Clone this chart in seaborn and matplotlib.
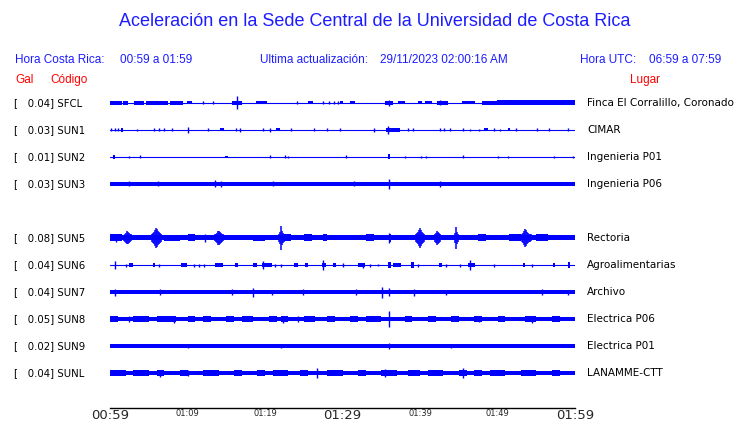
import matplotlib
matplotlib.use("Agg")
import matplotlib.pyplot as plt
import matplotlib.transforms as mtransforms
import pandas as pd
import seaborn as sns

# ---------------------------------------------------------------
# data (time in minutes after 00:59,
# amplitudes as half-heights in screen pixels)
# ---------------------------------------------------------------
stations = ["SFCL", "SUN1", "SUN2", "SUN3", "SUN5", "SUN6", "SUN7", "SUN8", "SUN9", "SUNL"]
slots = [0, 1, 2, 3, 5, 6, 7, 8, 9, 10]
peaks = ["0.04", "0.03", "0.01", "0.03", "0.08", "0.04", "0.04", "0.05", "0.02", "0.04"]
places = ["Finca El Corralillo, Coronado", "CIMAR", "Ingenieria P01", "Ingenieria P06",
          "Rectoria", "Agroalimentarias", "Archivo", "Electrica P06", "Electrica P01",
          "LANAMME-CTT"]

base_half = [0.5, 0.5, 0.5, 2.0, 2.5, 0.5, 2.3, 2.3, 1.8, 2.3]

blocks = {
    "SFCL": [(0, 1.5, 2), (1.7, 2.3, 2), (3.1, 4.4, 2), (4.6, 7.5, 2), (7.7, 9.4, 2),
             (9.9, 10.6, 1.5), (15.7, 17.0, 1.8), (18.9, 20.2, 1.5), (25.5, 26.2, 1.5),
             (29.7, 30.1, 1.5), (31, 31.6, 1.5), (35.5, 36.5, 2), (37.2, 38.1, 1.5),
             (39.7, 40.2, 1.5), (40.6, 41.5, 1.5), (42.2, 43.6, 2), (45.4, 47.1, 1.5),
             (48, 49.9, 2), (49.9, 60, 2.5)],
    "SUN1": [(1.4, 1.7, 2), (14.2, 14.7, 1.5), (21.4, 21.9, 1.5), (35.6, 37.4, 2),
             (48.3, 48.8, 1.5), (51.3, 51.6, 1.5)],
    "SUN2": [(0.4, 0.6, 2), (14.8, 15.2, 1.2), (35.9, 36.1, 2.5)],
    "SUN3": [],
    "SUN5": [(0, 1.6, 3.5), (7, 9, 3), (10, 11, 3.5), (18.5, 20, 3), (22.5, 23.4, 3.5),
             (25, 26, 3.5), (27.5, 28, 3.5), (33, 34, 3.5), (36, 36.3, 4), (47.5, 48.5, 3.5),
             (51.5, 53, 3.5), (55, 56.5, 3.5)],
    "SUN6": [(2.5, 3.0, 2), (5.6, 5.8, 2), (9.2, 9.9, 2), (13.5, 14.6, 2), (16.1, 16.5, 2),
             (18.5, 19.0, 2), (19.6, 20.9, 2.5), (23.7, 24.3, 2), (25.2, 25.5, 2),
             (27.3, 27.9, 2), (28.8, 29.1, 2), (32, 32.9, 2), (35.9, 36.3, 3),
             (36.5, 37.6, 2), (38.9, 39.2, 3), (42.4, 42.8, 2), (46.2, 47.1, 2.5),
             (53.3, 53.5, 2), (57.2, 57.4, 2), (59.1, 59.4, 3)],
    "SUN7": [],
    "SUN8": [(0, 1, 3), (3, 5, 3), (6, 8.5, 3), (10, 11, 3), (12, 13, 3), (15, 16, 3),
             (17, 18.5, 3), (20.5, 21.5, 3), (22, 23, 3), (25, 26.5, 3), (28, 29, 3),
             (31, 32, 3), (33, 35, 3), (38, 39, 3), (41, 42, 3), (44, 45, 3), (47, 48, 3),
             (50, 51, 3), (53.5, 55, 3), (57, 58, 3)],
    "SUN9": [],
    "SUNL": [(0, 2, 3), (3, 5, 3), (6, 7, 3), (9, 10, 3), (12, 14, 3), (16, 17, 3),
             (19, 20, 3), (21, 23, 3), (24.5, 25.5, 3), (28, 30, 3), (32, 33, 3),
             (35, 37, 3), (38.5, 40, 3), (41, 43, 3), (45, 46, 3), (47, 48, 3),
             (49, 51, 3), (53, 55, 3), (57, 58, 3)],
}

spikes = {
    "SFCL": [(16.4, 6.5), (36.0, 3), (42.6, 2.5), (12.0, 1.5), (13.3, 1.5), (24.1, 1.5),
             (27.5, 1.5), (28.2, 1.5), (28.9, 1.5), (29.4, 1.5)],
    "SUN1": [(0.1, 1.5), (0.6, 1.5), (1.0, 1.5), (3.5, 1), (5.7, 1.5), (6.3, 1.5),
             (7.0, 1.5), (8.0, 1.5), (10.0, 3), (12.6, 1.5), (16.2, 1.5), (16.8, 2),
             (19.8, 1.5), (20.7, 2), (23.4, 1.5), (26.3, 1.5), (28.0, 1.5), (29.7, 1.5),
             (34.0, 2), (35.9, 4.3), (38.5, 1.5), (39.1, 1.5), (42.6, 1.5), (43.1, 1.5),
             (43.9, 1.5), (45.6, 1.5), (46.4, 1), (47.6, 1), (49.6, 1.5), (50.3, 1),
             (52.4, 1.5), (55.1, 1.5), (56.6, 1.5), (59.1, 1.5)],
    "SUN2": [(2.5, 1), (3.9, 1.5), (20.6, 1.5), (22.6, 1.5), (23.0, 1), (30.5, 1.5),
             (38.1, 1.2), (40.1, 1.2), (40.8, 1.2), (45.5, 1.5), (50.0, 1), (51.3, 1),
             (57.3, 1), (59.7, 1.2)],
    "SUN3": [(2.5, 2.5), (6.2, 2.5), (13.5, 3.5), (14.3, 3), (36.0, 5), (42.6, 3),
             (21, 2.5), (31.5, 2.5)],
    "SUN5": [(36.0, 4.5), (0.8, 4), (12.2, 4)],
    "SUN6": [(0.6, 4), (2.0, 1.5), (6.3, 1.5), (10.9, 1.5), (11.5, 1.5), (12.1, 1.5),
             (19.7, 4), (21.3, 1.5), (22.1, 1.5), (27.5, 5), (30.1, 2), (32.7, 2.5),
             (33.5, 1.5), (34.6, 1), (39.8, 1.5), (43.4, 1.5), (45.2, 1.5), (46.4, 5),
             (49.5, 1.5), (54.4, 1.5)],
    "SUN7": [(0.6, 3.5), (6.5, 3), (15.7, 3), (18.4, 4.5), (20.9, 2.5), (24.9, 3),
             (31.7, 3), (35.1, 5.5), (36.0, 4), (39.2, 3.5), (43.3, 2.5), (55.7, 3),
             (59.1, 2.5)],
    "SUN8": [(8.2, 3.5), (22.3, 3.5), (24.2, 3), (36.0, 8), (54.4, 3.5), (47.6, 3),
             (2.4, 3)],
    "SUN9": [(36.0, 3), (10, 2), (22, 2), (44, 2)],
    "SUNL": [(26.7, 5), (10.1, 3), (35.5, 4), (45.6, 5), (6.5, 3.5)],
}

# wave trains: centre time and half-height profile, one value per screen pixel
bursts = {
    "SUN5": [
        (2.3, [3, 4, 5, 6.5, 6, 5, 4, 3.5]),
        (6.0, [4, 5, 6, 8, 10, 9, 7, 6, 5, 4]),
        (14.1, [3.5, 4, 5, 7, 7.5, 6, 5, 4, 3.5]),
        (22.2, [4, 6, 12, 7, 5, 4, 3.5]),
        (40.0, [4, 5, 6, 8, 10, 8, 6, 5, 4]),
        (42.2, [4, 5, 7.5, 6, 5, 4]),
        (44.7, [5, 11, 6, 4]),
        (53.8, [4, 5, 7, 9, 8, 6, 5, 4, 4, 3.5]),
    ],
}

tick_minutes = list(range(0, 61, 5))
tick_labels = ["00:59", "", "01:09", "", "01:19", "", "01:29", "", "01:39", "", "01:49", "", "01:59"]
big_labels = ["00:59", "01:29", "01:59"]

# ---------------------------------------------------------------
# figure
# ---------------------------------------------------------------
sns.set_style("white")
plt.rcParams["font.family"] = ["DejaVu Sans"]

W, H = 740, 423
PX = 1 / 27.0          # one screen pixel in slot units
STEP = 60 / 465.0      # one screen pixel in minutes
BLUE = "#0000ff"
TXT_BLUE = "#1c1cff"

fig = plt.figure(figsize=(W / 100, H / 100), dpi=100)
ax = fig.add_axes([110 / W, 1 - 408 / H, 465 / W, 318 / H])

# thin centre line for every trace
lines = pd.DataFrame({
    "t": [0, 60] * len(stations),
    "y": [s for s in slots for _ in range(2)],
    "station": [st for st in stations for _ in range(2)],
})
sns.lineplot(data=lines, x="t", y="y", units="station", estimator=None,
             color=BLUE, lw=0.8, ax=ax, legend=False)

for st, y0, bh in zip(stations, slots, base_half):
    if bh > 0.6:
        ax.fill_between([0, 60], y0 - bh * PX, y0 + bh * PX, color=BLUE, lw=0)
    for t0, t1, h in blocks[st]:
        ax.fill_between([t0, t1], y0 - h * PX, y0 + h * PX, color=BLUE, lw=0)
    for t, h in spikes[st]:
        ax.vlines(t, y0 - h * PX, y0 + h * PX, color=BLUE, lw=1.0)
    for tc, prof in bursts.get(st, []):
        t_start = tc - (len(prof) - 1) / 2 * STEP
        ts = [t_start + i * STEP for i in range(len(prof))]
        ax.vlines(ts, [y0 - h * PX for h in prof], [y0 + h * PX for h in prof],
                  color=BLUE, lw=1.1)

ax.set_xlim(0, 60)
ax.set_ylim(10 + 35 / 27, -13 / 27)
ax.set_xlabel("")
ax.set_ylabel("")
ax.set_yticks([])
for side in ["top", "left", "right"]:
    ax.spines[side].set_visible(False)
ax.spines["bottom"].set_color("black")
ax.spines["bottom"].set_linewidth(1)
ax.set_facecolor("white")

ax.set_xticks(tick_minutes)
ax.set_xticklabels(tick_labels)
ax.tick_params(axis="x", direction="in", length=10, width=1, color="black", pad=1)
for lab in ax.get_xticklabels():
    lab.set_fontsize(9.5 if lab.get_text() in big_labels else 6)

# station labels, left and right
trans = mtransforms.blended_transform_factory(fig.transFigure, ax.transData)
for st, y0, pk, pl in zip(stations, slots, peaks, places):
    ax.text(14 / W, y0, f"[   {pk}] {st}", transform=trans, fontsize=7.3,
            ha="left", va="center", color="black")
    ax.text(587 / W, y0, pl, transform=trans, fontsize=7.5,
            ha="left", va="center", color="black")

# header texts
hdr = dict(family=["Liberation Sans", "DejaVu Sans"], va="center", ha="left")
fig.text(375 / W, 1 - 21 / H, "Aceleración en la Sede Central de la Universidad de Costa Rica",
         fontsize=13, color=TXT_BLUE, family=["Liberation Sans", "DejaVu Sans"],
         ha="center", va="center")
fig.text(15 / W, 1 - 60 / H, "Hora Costa Rica:", fontsize=8.5, color=TXT_BLUE, **hdr)
fig.text(120 / W, 1 - 60 / H, "00:59 a 01:59", fontsize=8.5, color=TXT_BLUE, **hdr)
fig.text(260 / W, 1 - 60 / H, "Ultima actualización:", fontsize=8.5, color=TXT_BLUE, **hdr)
fig.text(380 / W, 1 - 60 / H, "29/11/2023 02:00:16 AM", fontsize=8.5, color=TXT_BLUE, **hdr)
fig.text(580 / W, 1 - 60 / H, "Hora UTC:", fontsize=8.5, color=TXT_BLUE, **hdr)
fig.text(649 / W, 1 - 60 / H, "06:59 a 07:59", fontsize=8.5, color=TXT_BLUE, **hdr)
fig.text(15 / W, 1 - 80 / H, "Gal", fontsize=8.5, color="red", **hdr)
fig.text(50 / W, 1 - 80 / H, "Código", fontsize=8.5, color="red", **hdr)
fig.text(630 / W, 1 - 80 / H, "Lugar", fontsize=8.5, color="red", **hdr)

fig.savefig("out.png", dpi=100, facecolor="white")
